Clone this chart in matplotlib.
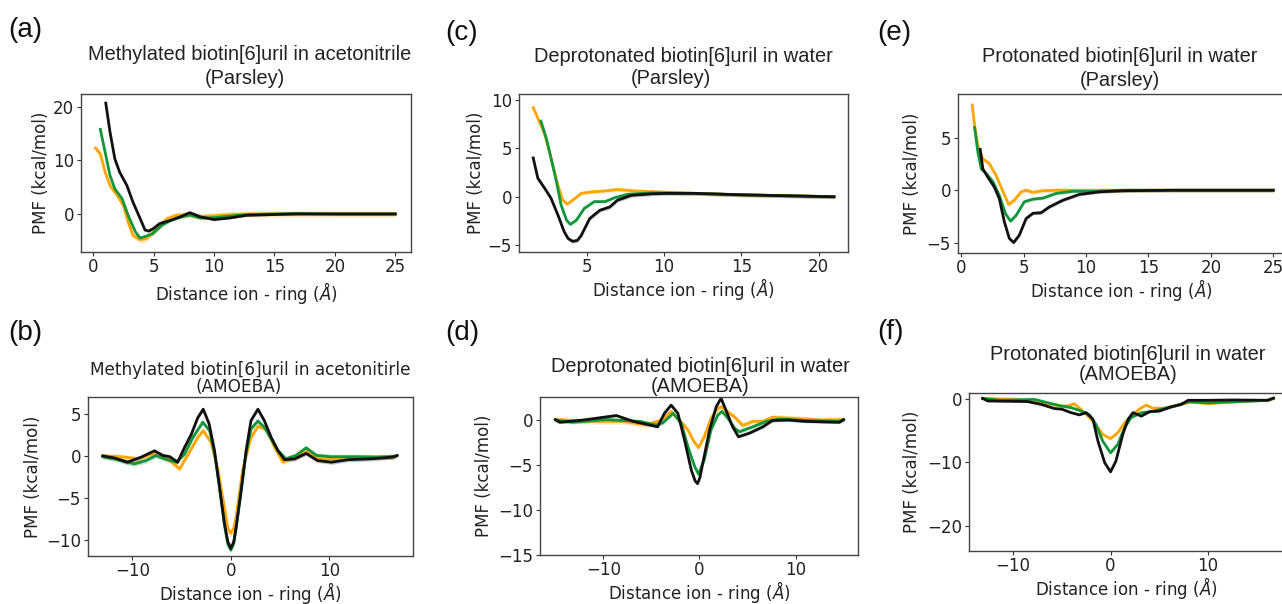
import numpy as np
import matplotlib
matplotlib.use('Agg')
from matplotlib import pyplot as plt

# colours of the three ions
ORANGE = '#ffa500'
GREEN = '#12963c'
BLACK = '#111111'

# ---- panel (a): methylated, acetonitrile, Parsley
a_org_x = [0.2, 0.6, 1.0, 1.4, 2.0, 2.5, 2.9, 3.3, 3.9, 4.4, 5.3, 6.1, 6.9, 7.8, 8.9, 10.0, 11.5, 13, 15, 20, 25]
a_org_y = [12.3, 11.2, 7.8, 5.3, 3.5, 1.6, -1.5, -4.0, -4.8, -4.6, -2.7, -0.9, -0.25, -0.1, -0.5, -0.35, -0.1, 0.0, 0.0, 0.0, 0.0]
a_grn_x = [0.6, 1.0, 1.4, 1.8, 2.4, 2.9, 3.5, 3.9, 4.3, 4.9, 5.7, 6.4, 7.2, 8.0, 8.9, 10.0, 11.3, 12.7, 15, 16.5, 20, 25]
a_grn_y = [15.8, 11.5, 7.2, 4.7, 2.85, -0.25, -3.35, -4.5, -4.2, -3.7, -2.1, -1.2, -0.6, -0.2, -0.75, -0.7, -0.4, -0.1, 0.0, 0.1, 0.0, 0.0]
a_blk_x = [1.05, 1.4, 1.8, 2.2, 2.8, 3.3, 3.9, 4.3, 4.6, 5.0, 5.5, 6.4, 7.2, 8.0, 8.9, 10.0, 11.3, 12.7, 15, 17, 20, 25]
a_blk_y = [20.7, 15.3, 10.3, 7.8, 5.3, 2.2, -0.9, -3.0, -3.2, -2.7, -1.8, -1.2, -0.55, 0.25, -0.55, -1.05, -0.75, -0.25, -0.1, 0.0, 0.0, 0.0]

# ---- panel (b): methylated, acetonitrile, AMOEBA
b_org_x = [-13.0, -11.1, -9.4, -7.6, -6.4, -5.2, -4.2, -3.35, -2.8, -2.0, -1.3, -0.65, -0.3, 0.0, 0.3, 0.55, 1.2, 2.05, 2.75, 3.6, 4.45, 5.3, 6.5, 7.8, 8.8, 10.9, 13.2, 16.7]
b_org_y = [0.0, -0.1, -0.35, 0.4, -0.35, -1.55, 0.45, 2.2, 3.0, 1.6, -1.7, -6.1, -8.6, -9.2, -8.6, -7.2, -1.7, 2.2, 3.5, 3.2, 1.0, -0.75, -0.1, 0.55, -0.35, -0.35, -0.15, -0.1]
b_grn_x = [-13.0, -11.8, -9.8, -8.6, -7.6, -6.75, -5.55, -4.7, -3.85, -2.85, -2.15, -1.65, -1.15, -0.65, -0.3, 0.0, 0.3, 0.55, 1.05, 1.55, 2.05, 2.75, 3.4, 4.1, 4.8, 5.6, 6.6, 7.65, 8.7, 10.2, 12.6, 14.9, 16.7]
b_grn_y = [-0.1, -0.35, -0.95, -0.55, 0.05, -0.35, -0.75, 0.2, 2.2, 4.0, 3.0, 0.3, -3.7, -8.2, -10.5, -11.2, -10.4, -8.5, -4.2, 0.3, 3.2, 4.15, 3.4, 2.0, 0.6, -0.35, 0.05, 0.95, 0.05, -0.1, -0.1, -0.15, -0.05]
b_blk_x = [-13.0, -11.8, -10.5, -9.1, -7.75, -6.9, -6.2, -5.4, -4.7, -4.0, -3.35, -2.8, -2.2, -1.65, -1.15, -0.65, -0.3, 0.0, 0.3, 0.55, 1.05, 1.55, 2.05, 2.75, 3.4, 4.1, 4.8, 5.45, 6.5, 7.65, 8.8, 10.2, 11.9, 14.2, 16.4, 16.9]
b_blk_y = [0.0, -0.25, -0.75, -0.15, 0.6, 0.05, -0.1, -0.75, 1.0, 2.6, 4.55, 5.55, 3.8, 0.6, -3.7, -8.0, -10.2, -11.0, -10.2, -8.4, -4.1, 0.6, 4.2, 5.55, 4.2, 2.2, 0.6, -0.45, -0.35, 0.3, -0.55, -0.75, -0.45, -0.35, -0.15, 0.05]

# ---- panel (c): deprotonated, water, Parsley
c_org_x = [1.55, 1.85, 2.3, 2.7, 3.15, 3.45, 3.75, 4.1, 4.65, 5.3, 6.2, 7.0, 8.1, 9.6, 12, 15, 18, 21]
c_org_y = [9.2, 8.1, 6.4, 3.95, 1.2, -0.35, -0.75, -0.35, 0.35, 0.5, 0.6, 0.75, 0.6, 0.5, 0.35, 0.2, 0.1, 0.0]
c_grn_x = [2.05, 2.4, 2.7, 3.05, 3.35, 3.7, 3.95, 4.35, 4.85, 5.5, 6.2, 6.8, 7.65, 9.2, 12, 15, 18, 21]
c_grn_y = [7.8, 6.0, 4.0, 1.55, -0.85, -2.4, -2.85, -2.4, -1.2, -0.5, -0.5, -0.1, 0.25, 0.4, 0.35, 0.2, 0.1, 0.0]
c_blk_x = [1.55, 1.85, 2.3, 2.7, 3.15, 3.55, 3.8, 4.1, 4.4, 4.65, 5.2, 5.85, 6.5, 7.0, 7.9, 9.2, 10.2, 12, 15, 18, 21]
c_blk_y = [4.0, 1.9, 0.85, -0.15, -1.9, -3.6, -4.3, -4.6, -4.5, -4.0, -2.25, -1.4, -1.05, -0.35, 0.15, 0.3, 0.35, 0.35, 0.2, 0.1, 0.0]

# ---- panel (d): deprotonated, water, AMOEBA
d_org_x = [-15.0, -11.4, -8.0, -5.5, -3.95, -2.95, -2.1, -1.2, -0.6, -0.1, 0.5, 1.2, 1.9, 2.35, 2.95, 3.65, 4.5, 5.55, 6.6, 7.6, 9.6, 12.7, 14.8]
d_org_y = [0.0, -0.2, -0.2, -0.6, -0.05, 0.9, -0.05, -1.15, -2.4, -3.1, -1.9, 0.15, 1.25, 1.4, 0.85, 0.3, -0.65, -0.2, -0.2, 0.25, 0.15, -0.05, 0.0]
d_grn_x = [-15.0, -13.2, -9.7, -6.2, -4.5, -3.8, -2.75, -1.9, -1.2, -0.5, -0.1, 0.5, 1.2, 1.9, 2.35, 2.95, 3.65, 4.15, 5.55, 6.95, 8.3, 11.0, 14.5, 15.0]
d_grn_y = [-0.05, -0.3, 0.0, -0.2, -0.6, -0.35, 0.7, -0.4, -3.0, -5.2, -6.05, -4.45, -1.15, 0.5, 0.9, 0.15, -0.95, -1.35, -0.8, -0.2, 0.05, -0.1, -0.2, -0.05]
d_blk_x = [-15.0, -14.55, -12.1, -8.65, -6.9, -4.35, -3.65, -2.95, -2.25, -1.55, -0.85, -0.45, -0.2, 0.05, 0.35, 1.05, 1.75, 2.25, 2.75, 3.45, 4.05, 5.2, 6.6, 7.6, 9.3, 11.0, 14.55, 15.0]
d_blk_y = [0.0, -0.3, -0.05, 0.45, -0.2, -0.8, 0.7, 1.6, 0.7, -2.3, -5.6, -6.8, -7.1, -6.4, -4.8, -1.15, 1.45, 2.35, 1.05, -0.8, -1.9, -1.5, -0.8, -0.1, -0.05, -0.2, -0.3, 0.0]

# ---- panel (e): protonated, water, Parsley
e_org_x = [0.88, 1.07, 1.33, 1.73, 2.25, 2.8, 3.35, 3.8, 4.25, 4.8, 5.2, 5.75, 6.5, 7.6, 10, 15, 20, 25]
e_org_y = [8.15, 6.2, 4.3, 3.0, 2.55, 1.4, -0.15, -1.35, -0.95, -0.15, 0.0, -0.2, -0.05, 0.0, 0.0, 0.0, 0.0, 0.0]
e_grn_x = [1.07, 1.33, 1.6, 2.0, 2.55, 3.05, 3.55, 3.95, 4.4, 5.05, 5.75, 6.55, 7.6, 8.95, 10.8, 13, 17, 25]
e_grn_y = [6.0, 3.65, 2.05, 1.6, 0.8, -0.5, -2.25, -2.95, -2.4, -1.1, -0.85, -0.75, -0.3, -0.1, -0.1, 0.0, 0.0, 0.0]
e_blk_x = [1.52, 1.73, 2.13, 2.65, 3.05, 3.45, 3.85, 4.2, 4.65, 5.2, 5.75, 6.4, 7.05, 8.15, 9.45, 11.1, 13.0, 17, 21, 25]
e_blk_y = [3.9, 2.05, 1.25, 0.3, -0.8, -3.0, -4.6, -5.0, -4.3, -2.7, -2.2, -2.15, -1.6, -0.95, -0.4, -0.15, -0.05, 0.0, 0.0, 0.0]

# ---- panel (f): protonated, water, AMOEBA
f_org_x = [-13.1, -9.5, -7.1, -5.05, -4.4, -3.75, -3.2, -2.5, -1.65, -0.8, 0.0, 0.75, 1.45, 2.1, 2.95, 3.65, 4.35, 5.5, 6.9, 8.3, 10.0, 12.7, 16.1, 16.7]
f_org_y = [0.1, -0.05, -0.6, -1.1, -1.1, -0.75, -1.4, -2.4, -3.75, -5.6, -6.25, -5.3, -3.75, -2.7, -1.6, -0.95, -1.45, -1.45, -0.95, -0.45, -0.75, -0.4, -0.2, 0.1]
f_grn_x = [-13.1, -11.2, -7.8, -6.4, -5.05, -4.05, -3.0, -2.15, -1.5, -0.8, 0.0, 0.75, 1.45, 2.1, 3.15, 4.15, 5.2, 6.55, 7.95, 10.0, 12.7, 16.1, 16.7]
f_grn_y = [0.1, -0.2, -0.05, -0.6, -1.1, -1.35, -1.9, -2.5, -4.0, -6.65, -8.5, -7.15, -4.5, -2.95, -2.15, -2.0, -1.6, -1.1, -0.45, -0.6, -0.45, -0.2, 0.1]
f_blk_x = [-13.1, -12.6, -8.5, -7.1, -5.75, -5.0, -4.05, -3.2, -2.5, -1.8, -1.3, -0.6, 0.0, 0.55, 1.25, 1.8, 2.3, 3.15, 4.0, 5.0, 6.2, 7.25, 7.95, 10.0, 12.7, 16.1, 16.7]
f_blk_y = [0.1, -0.3, -0.4, -0.85, -1.5, -1.6, -2.15, -2.5, -2.15, -3.2, -6.6, -10.05, -11.5, -9.8, -5.6, -3.2, -2.15, -2.7, -2.0, -1.9, -1.25, -0.85, -0.2, -0.2, -0.15, -0.2, 0.15]

# uncertainty half-widths (orange, green, black) for the light bands
a_err = [0.6, 0.3, 0.15]
b_err = [0.3, 0.3, 0.25]
c_err = [0.2, 0.15, 0.2]
d_err = [0.3, 0.2, 0.15]
e_err = [0.2, 0.15, 0.15]
f_err = [0.2, 0.15, 0.15]

title_l1 = ['Methylated biotin[6]uril in acetonitrile',
            'Methylated biotin[6]uril in acetonitirle',
            'Deprotonated biotin[6]uril in water',
            'Deprotonated biotin[6]uril in water',
            'Protonated biotin[6]uril in water',
            'Protonated biotin[6]uril in water']
title_l2 = ['(Parsley)', '(AMOEBA)', '(Parsley)', '(AMOEBA)', '(Parsley)', '(AMOEBA)']
letters = ['(a)', '(b)', '(c)', '(d)', '(e)', '(f)']

plt.rcParams['font.family'] = 'DejaVu Sans'
fig = plt.figure(figsize=(12.82, 6.04), dpi=100)
W, H = 1282.0, 604.0

def add_panel(box, data, err, xlim, ylim, xticks, yticks, ylab_px, xlab_px):
    # box in pixels: left, top, right, bottom
    l, t, r, b = box
    ax = fig.add_axes([l / W, 1 - b / H, (r - l) / W, (b - t) / H])
    for (x, y), c, e in zip(data, [ORANGE, GREEN, BLACK], err):
        x = np.array(x)
        y = np.array(y)
        ax.fill_between(x, y - e, y + e, color=c, alpha=0.25, lw=0)
        ax.plot(x, y, color=c, lw=2.0)
    ax.set_xlim(xlim)
    ax.set_ylim(ylim)
    ax.set_xticks(xticks)
    ax.set_yticks(yticks)
    ax.tick_params(labelsize=12, color='#333333', labelcolor='#222222', length=3, pad=2)
    ax.tick_params(axis='x', pad=1.5)
    for s in ax.spines.values():
        s.set_color('#444444')
        s.set_linewidth(1.0)
    ax.set_xlabel(r'Distance ion - ring ($\mathit{\AA}$)', fontsize=12, color='#222222')
    ax.set_ylabel('PMF (kcal/mol)', fontsize=12, color='#222222')
    # label positions: ylabel centre x, xlabel top distance below the axes (pixels)
    ax.yaxis.set_label_coords((ylab_px + 8 - l) / (r - l), 0.5)
    ax.xaxis.set_label_coords(0.5, -xlab_px / (b - t))
    return ax

add_panel((81, 94, 411, 252),
          [(a_org_x, a_org_y), (a_grn_x, a_grn_y), (a_blk_x, a_blk_y)], a_err,
          (-1.0, 26.3), (-7.1, 22.4), [0, 5, 10, 15, 20, 25], [0, 10, 20], 42, 28)
add_panel((88, 397, 413, 556),
          [(b_org_x, b_org_y), (b_grn_x, b_grn_y), (b_blk_x, b_blk_y)], b_err,
          (-14.5, 18.5), (-11.9, 7.0), [-10, 0, 10], [-10, -5, 0, 5], 34, 24)
add_panel((519, 94, 848, 252),
          [(c_org_x, c_org_y), (c_grn_x, c_grn_y), (c_blk_x, c_blk_y)], c_err,
          (0.63, 21.9), (-5.7, 10.6), [5, 10, 15, 20], [-5, 0, 5, 10], 477, 24)
add_panel((540, 397, 858, 555),
          [(d_org_x, d_org_y), (d_grn_x, d_grn_y), (d_blk_x, d_blk_y)], d_err,
          (-16.6, 16.5), (-15, 2.5), [-10, 0, 10], [-15, -10, -5, 0], 485, 24)
add_panel((958, 94, 1284, 253),
          [(e_org_x, e_org_y), (e_grn_x, e_grn_y), (e_blk_x, e_blk_y)], e_err,
          (-0.26, 25.86), (-6.0, 9.2), [0, 5, 10, 15, 20, 25], [-5, 0, 5], 913, 24)
add_panel((969, 393, 1284, 551),
          [(f_org_x, f_org_y), (f_grn_x, f_grn_y), (f_blk_x, f_blk_y)], f_err,
          (-14.5, 17.77), (-24, 0.95), [-10, 0, 10], [-20, -10, 0], 913, 24)

# two-line titles, placed by their centres in pixels
l1_pos = [(250, 55), (250, 370), (683, 57), (700, 366), (1120, 56), (1128, 354)]
l2_pos = [(245, 78), (239, 387), (671, 79), (700, 386), (1120, 80), (1128, 375)]
t_font = ['Liberation Sans', 'DejaVu Sans', 'Liberation Sans', 'Liberation Sans', 'Liberation Sans', 'Liberation Sans']
t_size = [14.4, 12.2, 14.4, 14.4, 14.4, 14.4]
for i in range(6):
    fig.text(l1_pos[i][0] / W, 1 - l1_pos[i][1] / H, title_l1[i], family=t_font[i],
             fontsize=t_size[i], color='#222222', ha='center', va='center')
    fig.text(l2_pos[i][0] / W, 1 - l2_pos[i][1] / H, title_l2[i], family=t_font[i],
             fontsize=t_size[i], color='#222222', ha='center', va='center')

# panel letters
for lab, (px, py) in zip(letters, [(8, 30), (8, 333), (445, 33), (445, 333), (877, 33), (877, 332)]):
    fig.text(px / W, 1 - py / H, lab, fontsize=20, family='Liberation Sans',
             color='#111111', ha='left', va='center')

fig.savefig('out.png', dpi=100)
